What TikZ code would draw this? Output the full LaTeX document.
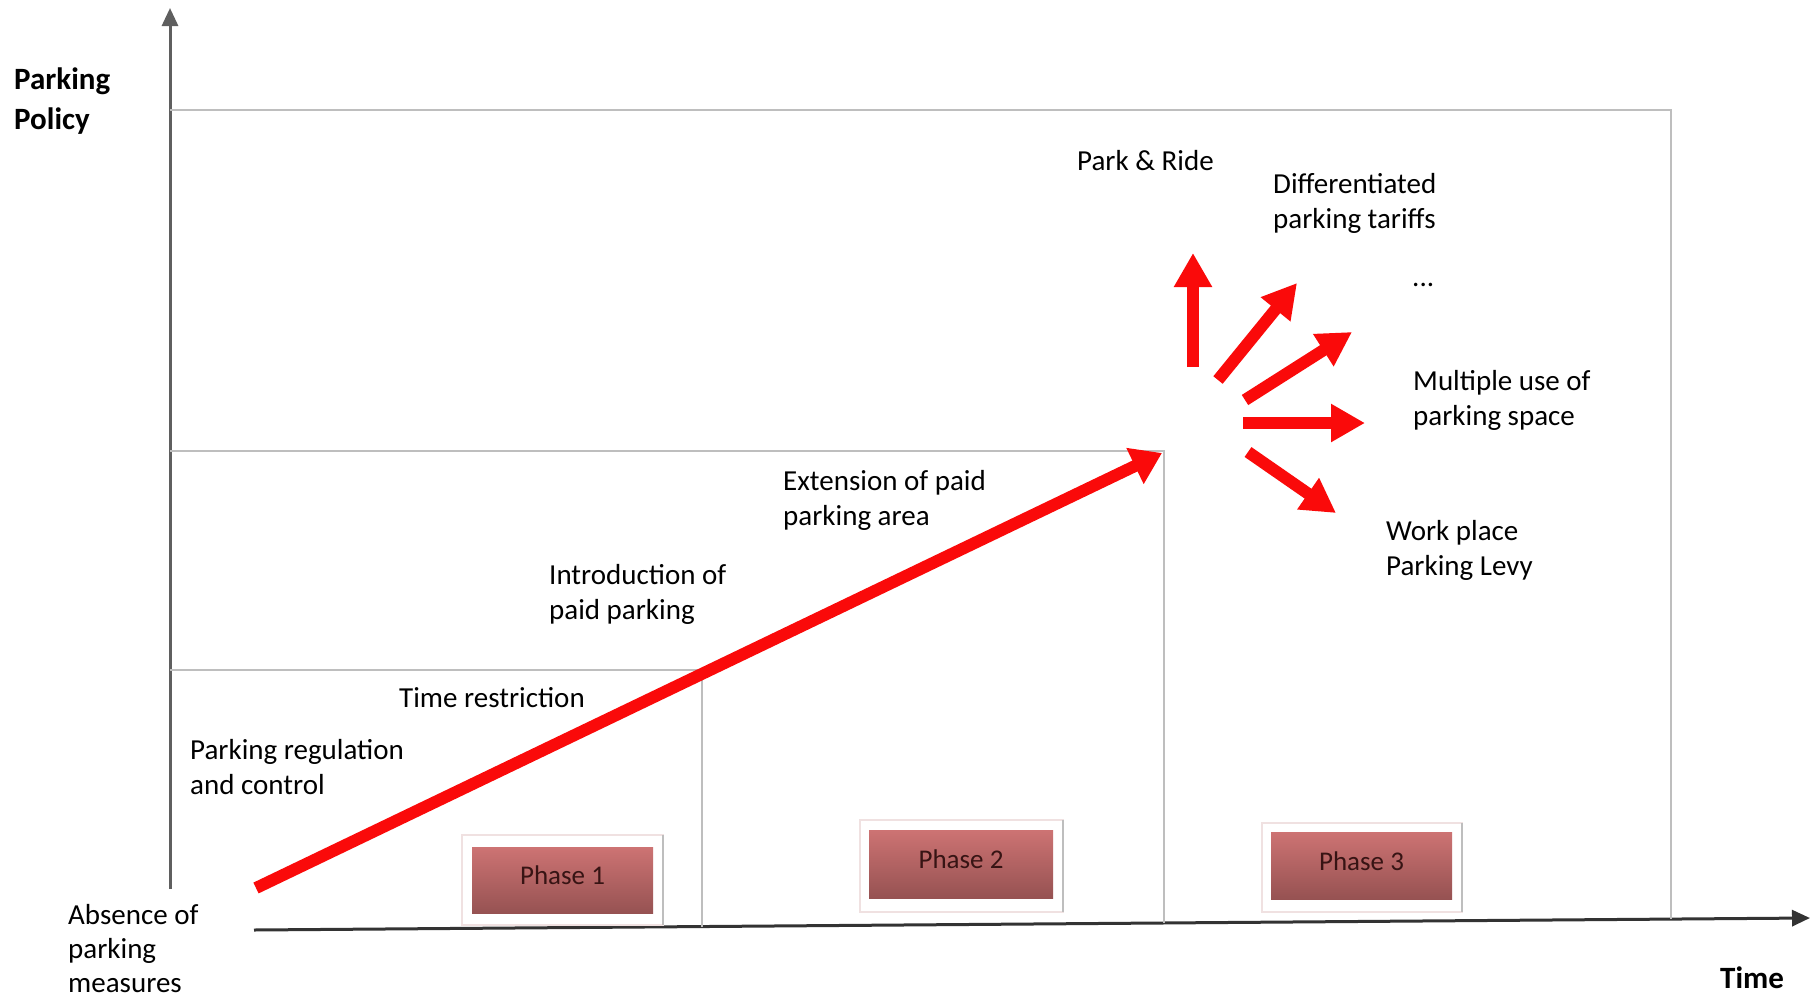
\documentclass[tikz,border=0pt]{standalone}
\usepackage{fontspec}
\setmainfont{Carlito}
\usetikzlibrary{arrows.meta}
\definecolor{gridgray}{RGB}{190,190,190}
\definecolor{axisgray}{RGB}{95,95,95}
\definecolor{phtop}{RGB}{205,115,115}
\definecolor{phbot}{RGB}{150,82,82}
\definecolor{phtext}{RGB}{55,20,20}
\definecolor{phedge}{RGB}{240,225,225}
\definecolor{arrred}{RGB}{250,10,10}
\begin{document}
\begin{tikzpicture}[x=1pt,y=-1pt,
  lbl/.style={anchor=north west, inner sep=0pt, align=left, font=\fontsize{29}{35}\selectfont},
  ttl/.style={anchor=north west, inner sep=0pt, align=left, font=\bfseries\fontsize{31}{40}\selectfont},
  gridline/.style={draw=gridgray, line width=2pt},
  axisline/.style={draw=axisgray, line width=3pt, -{Triangle[length=18pt,width=16pt]}},
  mainarrow/.style={draw=arrred, line width=12pt, -{Triangle[length=30pt,width=38pt]}},
  fanarrow/.style={draw=arrred, line width=12pt, -{Triangle[length=34pt,width=36pt]}},
  phasebg/.style={fill=white, draw=phedge, line width=1.5pt},
  phasebox/.style={top color=phtop, bottom color=phbot, draw=none, text=phtext,
    font=\fontsize{27}{32}\selectfont, text height=19pt, text depth=10pt},
]
\useasboundingbox (0,0) rectangle (1810,999);

% axes
\coordinate (yo) at (170,889);
\coordinate (yt) at (170,8);
\coordinate (xo) at (254,930);
\coordinate (xt) at (1810,918);
\draw[axisline] (yo) -- (yt);
\draw[draw=black!80, line width=3pt, -{Triangle[length=18pt,width=16pt]}] (xo) -- (xt);

% frame and phase lines
\coordinate (tl) at (170,110);
\coordinate (tr) at (1671,110);
\coordinate (br) at (1671,919);
\draw[gridline] (tl) -- (tr) -- (br);
\coordinate (l2a) at (170,451);
\coordinate (l2b) at (1164,451);
\coordinate (l2c) at (1164,923);
\draw[gridline] (l2a) -- (l2b) -- (l2c);
\coordinate (l1a) at (170,670);
\coordinate (l1b) at (702,670);
\coordinate (l1c) at (702,927);
\draw[gridline] (l1a) -- (l1b) -- (l1c);

% phase boxes
\draw[phasebg] (462,835) rectangle (663,925);
\draw[draw=gridgray, line width=2pt] (663,835) -- (663,925);
\node[phasebox, minimum width=181pt, minimum height=66pt] (ph1) at (562.5,880) {Phase 1};
\draw[phasebg] (860,820) rectangle (1063,912);
\draw[draw=gridgray, line width=2pt] (1063,820) -- (1063,912);
\node[phasebox, minimum width=184pt, minimum height=68pt] (ph2) at (961,864) {Phase 2};
\draw[phasebg] (1262,823) rectangle (1462,912);
\draw[draw=gridgray, line width=2pt] (1462,823) -- (1462,912);
\node[phasebox, minimum width=181pt, minimum height=67pt] (ph3) at (1361.5,865.5) {Phase 3};

% main arrow
\coordinate (ms) at (256,888);
\coordinate (me) at (1162,453);
\draw[mainarrow] (ms) -- (me);

% fan arrows
\coordinate (f1s) at (1193,367); \coordinate (f1e) at (1193,253);
\coordinate (f2s) at (1218,380); \coordinate (f2e) at (1297,283);
\coordinate (f3s) at (1245,400); \coordinate (f3e) at (1352,332);
\coordinate (f4s) at (1243,423); \coordinate (f4e) at (1365,423);
\coordinate (f5s) at (1248,452); \coordinate (f5e) at (1336,513);
\draw[fanarrow] (f1s) -- (f1e);
\draw[fanarrow] (f2s) -- (f2e);
\draw[fanarrow] (f3s) -- (f3e);
\draw[fanarrow] (f4s) -- (f4e);
\draw[fanarrow] (f5s) -- (f5e);

% labels
\node[ttl] (pp) at (14,68) {Parking\\Policy};
\node[ttl] (time) at (1720,967) {Time};
\node[lbl, font=\fontsize{29}{34}\selectfont] (absence) at (68,904) {Absence of\\parking\\measures};
\node[lbl] (reg) at (190,739) {Parking regulation\\and control};
\node[lbl] (tres) at (399,687) {Time restriction};
\node[lbl] (intro) at (549,564) {Introduction of\\paid parking};
\node[lbl] (ext) at (783,470) {Extension of paid\\parking area};
\node[lbl] (pr) at (1077,150) {Park \& Ride};
\node[lbl] (diff) at (1273,173) {Differentiated\\parking tariffs};
\node[lbl] (dots) at (1412,283) {...};
\node[lbl] (multi) at (1413,370) {Multiple use of\\parking space};
\node[lbl] (work) at (1386,520) {Work place\\Parking Levy};
\end{tikzpicture}
\end{document}
